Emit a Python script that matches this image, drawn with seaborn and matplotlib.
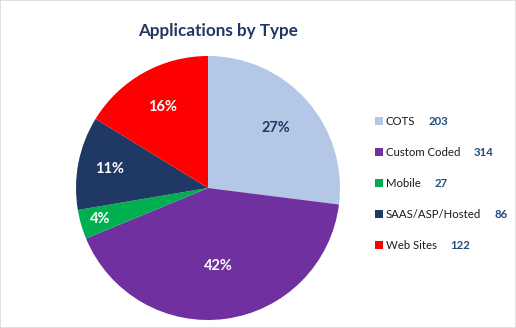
import numpy as np
import matplotlib
matplotlib.use("Agg")
import matplotlib.pyplot as plt
import seaborn as sns
from matplotlib.patches import Rectangle

categories = ["COTS", "Custom Coded", "Mobile", "SAAS/ASP/Hosted", "Web Sites"]
counts = [203, 314, 27, 86, 122]
colors = ["#B4C7E7", "#7030A0", "#00B050", "#203864", "#FF0000"]
pct_colors = ["#203864", "white", "white", "white", "white"]
label_radius = [0.69, 0.60, 0.85, 0.76, 0.70]

sns.set_theme(style="white")
plt.rcParams["font.family"] = ["Lato", "DejaVu Sans"]

W, H = 516, 328
fig = plt.figure(figsize=(W / 100, H / 100), dpi=100)
fig.patch.set_facecolor("white")

cx, cy, r = 208, 188, 132
ax = fig.add_axes([(cx - r) / W, (H - cy - r) / H, 2 * r / W, 2 * r / H])
wedges, texts, autotexts = ax.pie(
    counts, colors=colors, startangle=90, counterclock=False,
    autopct=lambda p: f"{p:.0f}%", pctdistance=0.7,
    wedgeprops=dict(linewidth=0),
    textprops=dict(fontsize=10.5, fontweight="bold"))
for w, t, c, rad in zip(wedges, autotexts, pct_colors, label_radius):
    ang = np.deg2rad((w.theta1 + w.theta2) / 2)
    t.set_position((rad * np.cos(ang), rad * np.sin(ang)))
    t.set_color(c)
ax.set_xlim(-1, 1)
ax.set_ylim(-1, 1)
ax.set_aspect("equal")
ax.axis("off")

fig.text(218 / W, 1 - 31 / H, "Applications by Type", ha="center", va="center",
         fontsize=12.3, fontweight="bold", color="#203864")

leg = fig.legend(wedges, categories, loc="upper left",
                 bbox_to_anchor=(369 / W, 1 - 110 / H), frameon=False,
                 fontsize=8.2, handlelength=0.7, handleheight=0.7,
                 handletextpad=0.25, labelspacing=1.76, borderpad=0)
for t in leg.get_texts():
    t.set_color("#1a1a1a")

fig.canvas.draw()
renderer = fig.canvas.get_renderer()
for t, v in zip(leg.get_texts(), counts):
    bb = t.get_window_extent(renderer)
    fig.text((bb.x1 + 14) / W, (bb.y0 + bb.y1) / 2 / H, str(v), ha="left",
             va="center", fontsize=8.2, fontweight="bold", color="#1F4E79")

fig.add_artist(Rectangle((0, 0), 1, 1, transform=fig.transFigure, fill=False,
                         edgecolor="#D9D9D9", linewidth=1.2))

fig.savefig("out.png", dpi=100)
